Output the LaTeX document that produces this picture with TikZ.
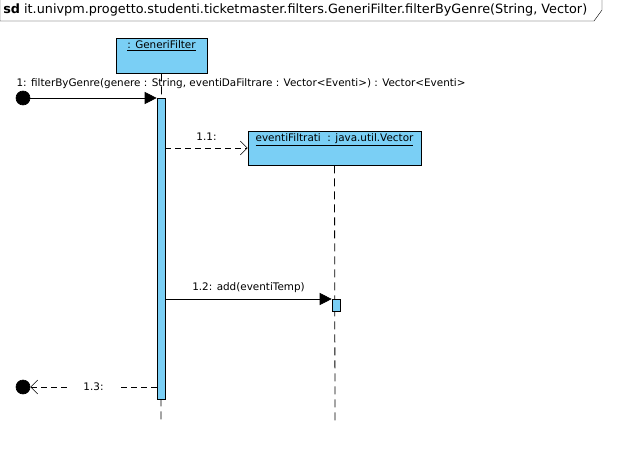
\documentclass[tikz,border=0pt]{standalone}
\usepackage{fontspec}
\setmainfont{DejaVu Sans}
\usepackage{tikz}
\usetikzlibrary{positioning,arrows.meta}
\definecolor{lifeblue}{RGB}{122,207,245}

\begin{document}
\begin{tikzpicture}[x=1pt, y=-1pt, semithick, font=\fontsize{10.4}{12}\selectfont,
        obj/.style = {draw, fill=lifeblue, inner sep=0},
        act/.style = {draw, fill=lifeblue, minimum width=8pt, inner sep=0},
        dot/.style = {draw, fill=black, circle, minimum size=14pt, inner sep=0},
        call/.style = {-{Triangle[length=12pt,width=12pt]}},
        reply/.style = {-{Straight Barb[length=7pt,width=14pt]}, dash pattern=on 6pt off 4pt},
        life/.style = {line width=0.8pt, dash pattern=on 8pt off 5pt}]
    \useasboundingbox (0,0) rectangle (642,452);
    % frame tab
    \draw[thin] (0,0) -- (0,21) -- (594,21) -- (602,10) -- (602,0);
    \node[anchor=west, inner sep=0, font=\fontsize{12.8}{14}\selectfont] (title) at (3,10)
        {\textbf{sd} it.univpm.progetto.studenti.ticketmaster.filters.GeneriFilter.filterByGenre(String, Vector)};
    % lifelines
    \node[obj, minimum width=91pt, minimum height=35pt] (gf) at (161.5,55.5) {};
    \node[below=3pt of gf.north, inner sep=0] (gflabel) {\underline{: GeneriFilter}};
    \node[obj, minimum width=173pt, minimum height=34pt] (vec) at (334.5,148) {};
    \node[below=3pt of vec.north, inner sep=0] (veclabel) {\underline{eventiFiltrati\ \ : java.util.Vector}};
    \coordinate (gfend) at (161,421);
    \coordinate (vecend) at (335,421);
    \draw[life] (gf.south) -- (gfend);
    \draw[life] (vec.south) -- (vecend);
    % activations
    \node[act, minimum height=301pt, anchor=north] (a1) at (161,98) {};
    \node[act, minimum height=12pt, anchor=north] (a2) at (336,299) {};
    % messages
    \node[dot] (start) at (23,98) {};
    \node[dot] (stop) at (23,387) {};
    \draw[call] (start) -- (a1.north west)
        node[at start, anchor=south west, inner sep=0, xshift=-14pt, yshift=9pt] (m1)
        {1: filterByGenre(genere : String, eventiDaFiltrare : Vector<Eventi>) : Vector<Eventi>};
    \draw[reply] (a1.east |- vec.west) -- (vec.west)
        node[midway, above=7pt, inner sep=0] (m11) {1.1:};
    \draw[call] (a1.east |- a2.north) -- (a2.north west)
        node[midway, above=6pt, inner sep=0] (m12) {1.2: add(eventiTemp)};
    \draw[reply] (a1.west |- stop) -- (stop)
        node[midway, fill=white, inner xsep=13pt] (m13) {1.3:};
\end{tikzpicture}
\end{document}
